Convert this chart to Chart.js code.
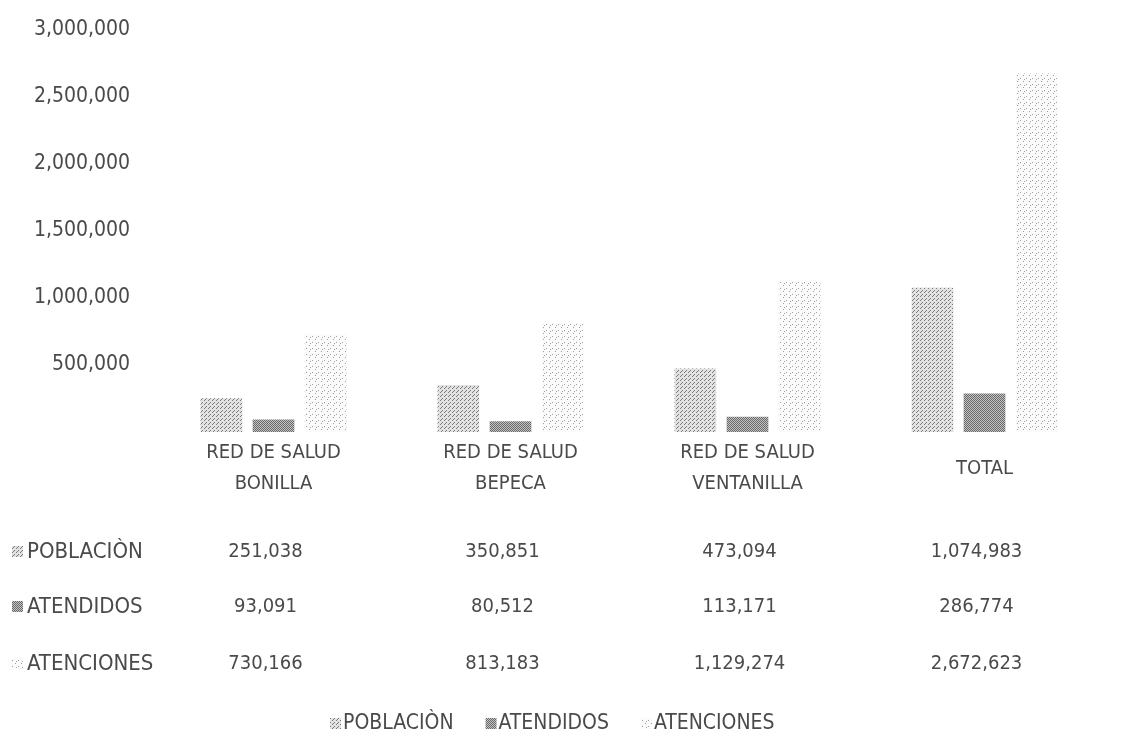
<!DOCTYPE html>
<html>
<head>
<meta charset="utf-8">
<script src="https://cdn.jsdelivr.net/npm/chart.js@4.4.0/dist/chart.umd.min.js"></script>
<style>
  html, body { margin: 0; padding: 0; background: #fff; }
  #wrap { width: 1140px; height: 742px; }
</style>
</head>
<body>
<div id="wrap"><canvas id="barChart"></canvas></div>
<script>
// data
const categories = [["RED DE SALUD", "BONILLA"], ["RED DE SALUD", "BEPECA"], ["RED DE SALUD", "VENTANILLA"], "TOTAL"];
const seriesNames = ["POBLACIÒN", "ATENDIDOS", "ATENCIONES"];
const poblacion = [251038, 350851, 473094, 1074983];
const atendidos = [93091, 80512, 113171, 286774];
const atenciones = [730166, 813183, 1129274, 2672623];
const yTickValues = [0, 500000, 1000000, 1500000, 2000000, 2500000, 3000000];

const FONT = "'DejaVu Sans Condensed', 'Liberation Sans', sans-serif";
const TEXT = "#4a4a4a";

// stipple-like fills to imitate the grey scan
function makePattern(size, bg, dot, dots) {
  const c = document.createElement("canvas");
  c.width = size; c.height = size;
  const g = c.getContext("2d");
  g.fillStyle = bg;
  g.fillRect(0, 0, size, size);
  g.fillStyle = dot;
  dots.forEach(([x, y]) => g.fillRect(x, y, 1, 1));
  return g.createPattern(c, "repeat");
}
const patterns = [
  makePattern(4, "#e2e2e2", "#7a7a7a", [[0, 0], [2, 2], [1, 3]]),
  makePattern(2, "#c4c4c4", "#686868", [[0, 0], [1, 1]]),
  makePattern(6, "#fbfbfb", "#a0a0a0", [[0, 0], [3, 3], [4, 1]])
];
const series = [poblacion, atendidos, atenciones];

const fmt = (v) => v.toLocaleString("en-US");

// table under the axis + legend, aligned on the x scale
const tablePlugin = {
  id: "dataTable",
  afterDraw(chart) {
    const ctx = chart.ctx;
    const x = chart.scales.x;
    const base = chart.chartArea.bottom;
    const rowY = [base + 120, base + 175, base + 232];
    ctx.save();
    ctx.textBaseline = "middle";
    series.forEach((vals, r) => {
      const y = rowY[r];
      ctx.fillStyle = patterns[r];
      ctx.fillRect(12, y - 6, 11, 11);
      ctx.fillStyle = TEXT;
      ctx.font = "22px " + FONT;
      ctx.textAlign = "left";
      ctx.fillText(seriesNames[r], 27, y);
      ctx.font = "20px " + FONT;
      ctx.textAlign = "center";
      vals.forEach((v, i) => ctx.fillText(fmt(v), x.getPixelForValue(i) - 8, y));
    });

    // legend
    const ly = base + 292;
    let lx = 330;
    ctx.font = "21px " + FONT;
    ctx.textAlign = "left";
    seriesNames.forEach((name, r) => {
      ctx.fillStyle = patterns[r];
      ctx.fillRect(lx, ly - 6, 11, 11);
      ctx.fillStyle = TEXT;
      ctx.fillText(name, lx + 13, ly);
      lx += 13 + ctx.measureText(name).width + 32;
    });
    ctx.restore();
  }
};

const ctxB = document.getElementById("barChart").getContext("2d");
const barChart = new Chart(ctxB, {
  type: "bar",
  data: {
    labels: categories,
    datasets: seriesNames.map((name, r) => ({
      label: name,
      data: series[r],
      backgroundColor: patterns[r],
      borderWidth: 0,
      barPercentage: 0.8,
      categoryPercentage: 0.66
    }))
  },
  options: {
    responsive: true,
    maintainAspectRatio: false,
    animation: false,
    layout: { padding: { top: 14, right: 37, left: 0, bottom: 0 } },
    plugins: {
      legend: { display: false },
      tooltip: { enabled: false }
    },
    scales: {
      x: {
        grid: { display: false },
        border: { display: false },
        ticks: {
          color: TEXT,
          font: { family: FONT, size: 20, lineHeight: 1.55 },
          padding: 13,
          maxRotation: 0,
          autoSkip: false,
          crossAlign: "center"
        },
        afterFit: (scale) => { scale.height = 310; }
      },
      y: {
        min: 0,
        max: 3000000,
        grid: { display: false },
        border: { display: false },
        afterBuildTicks: (scale) => { scale.ticks = yTickValues.map((v) => ({ value: v })); },
        ticks: {
          color: TEXT,
          font: { family: FONT, size: 21 },
          padding: 17,
          callback: (v) => (v === 0 ? "" : fmt(v))
        },
        afterFit: (scale) => { scale.width = 155; }
      }
    }
  },
  plugins: [tablePlugin]
});
</script>
</body>
</html>
